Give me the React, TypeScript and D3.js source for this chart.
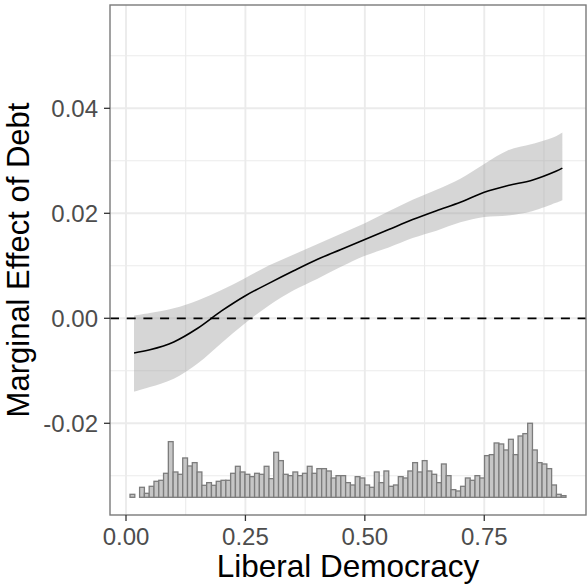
import React from "react";
import * as d3 from "d3";

// ---- data ----
const X_GRID = [0.0168, 0.05, 0.1, 0.15, 0.2, 0.25, 0.3, 0.35, 0.4, 0.45, 0.5, 0.55, 0.6, 0.65, 0.7, 0.75, 0.8, 0.85, 0.9, 0.9135];
const EFFECT = [-0.0066, -0.006, -0.0045, -0.0019, 0.0014, 0.0043, 0.0067, 0.009, 0.0112, 0.0131, 0.015, 0.0169, 0.0188, 0.0205, 0.0221, 0.024, 0.0253, 0.0263, 0.028, 0.0286];
const UPPER = [0.0005, 0.001, 0.0019, 0.0034, 0.0054, 0.0077, 0.0101, 0.0121, 0.0141, 0.0161, 0.0181, 0.0204, 0.0226, 0.0245, 0.0266, 0.0294, 0.032, 0.0332, 0.0347, 0.0354];
const LOWER = [-0.014, -0.0131, -0.0115, -0.0086, -0.0047, -0.0009, 0.0025, 0.0053, 0.0075, 0.0098, 0.0119, 0.0135, 0.0153, 0.0167, 0.0183, 0.0193, 0.0196, 0.0204, 0.022, 0.0225];

const HIST_COUNTS = [
  9, 0, 30, 12, 33, 48, 51, 72, 167, 76, 69, 118, 94, 104, 76, 36, 44, 36, 48, 51,
  51, 72, 93, 76, 69, 62, 72, 69, 93, 56, 135, 110, 69, 65, 76, 65, 72, 93, 72, 86,
  86, 79, 58, 65, 65, 44, 37, 62, 58, 37, 30, 76, 44, 79, 33, 37, 62, 58, 79, 104,
  76, 110, 79, 69, 44, 100, 65, 23, 19, 33, 58, 51, 65, 58, 125, 128, 163, 160, 142, 174,
  128, 184, 191, 222, 142, 104, 100, 86, 37, 9, 5,
];
const HIST_START = 0.0084;
const HIST_BIN = 0.01003;
const HIST_BASE = -0.0341;
const HIST_TOP = -0.02;

const X_TICKS = [0, 0.25, 0.5, 0.75];
const X_TICK_LABELS = ["0.00", "0.25", "0.50", "0.75"];
const X_MINOR = [0.125, 0.375, 0.625, 0.875];
const Y_TICKS = [-0.02, 0, 0.02, 0.04];
const Y_TICK_LABELS = ["-0.02", "0.00", "0.02", "0.04"];
const Y_MINOR = [-0.03, -0.01, 0.01, 0.03, 0.05];
const X_TITLE = "Liberal Democracy";
const Y_TITLE = "Marginal Effect of Debt";

const W = 587;
const H = 585;
const P = { left: 110, right: 586, top: 5, bottom: 515 };

export default function App() {
  const x = d3.scaleLinear().domain([-0.0335, 0.963]).range([P.left, P.right]);
  const y = d3.scaleLinear().domain([-0.03747, 0.05968]).range([P.bottom, P.top]);
  const hScale = d3
    .scaleLinear()
    .domain([0, d3.max(HIST_COUNTS) as number])
    .range([HIST_BASE, HIST_TOP]);

  const pts = X_GRID.map((xv, i) => ({ x: xv, m: EFFECT[i], lo: LOWER[i], hi: UPPER[i] }));
  const area = d3
    .area<any>()
    .x((d) => x(d.x))
    .y0((d) => y(d.lo))
    .y1((d) => y(d.hi))
    .curve(d3.curveCatmullRom.alpha(0.5));
  const line = d3
    .line<any>()
    .x((d) => x(d.x))
    .y((d) => y(d.m))
    .curve(d3.curveCatmullRom.alpha(0.5));

  const font = "'Liberation Sans', Arial, Helvetica, sans-serif";

  return (
    <svg width={W} height={H} style={{ position: "absolute", left: 0, top: 0, background: "#fff" }}>
      <rect x={0} y={0} width={W} height={H} fill="#fff" />
      {/* grid */}
      <g>
        {X_MINOR.map((v) => (
          <line key={"xm" + v} x1={x(v)} x2={x(v)} y1={P.top} y2={P.bottom} stroke="#ebebeb" strokeWidth={1.1} />
        ))}
        {Y_MINOR.map((v) => (
          <line key={"ym" + v} x1={P.left} x2={P.right} y1={y(v)} y2={y(v)} stroke="#ebebeb" strokeWidth={1.1} />
        ))}
        {X_TICKS.map((v) => (
          <line key={"xg" + v} x1={x(v)} x2={x(v)} y1={P.top} y2={P.bottom} stroke="#ebebeb" strokeWidth={1.9} />
        ))}
        {Y_TICKS.map((v) => (
          <line key={"yg" + v} x1={P.left} x2={P.right} y1={y(v)} y2={y(v)} stroke="#ebebeb" strokeWidth={1.9} />
        ))}
      </g>
      {/* histogram */}
      <g>
        {HIST_COUNTS.map((c, i) => {
          const x0 = x(HIST_START + i * HIST_BIN);
          const x1 = x(HIST_START + (i + 1) * HIST_BIN);
          const yt = y(hScale(c));
          const yb = y(HIST_BASE);
          return (
            <rect
              key={"h" + i}
              x={x0}
              y={yt}
              width={x1 - x0}
              height={yb - yt}
              fill="#c6c6c6"
              stroke="#7c7c7c"
              strokeWidth={1.3}
            />
          );
        })}
      </g>
      {/* ribbon + line */}
      <path d={area(pts) || ""} fill="#999999" fillOpacity={0.4} stroke="none" />
      <line x1={P.left} x2={P.right} y1={y(0)} y2={y(0)} stroke="#000" strokeWidth={1.7} strokeDasharray="9 7.7" />
      <path d={line(pts) || ""} fill="none" stroke="#000" strokeWidth={1.6} />
      {/* border */}
      <rect x={P.left} y={P.top} width={P.right - P.left} height={P.bottom - P.top} fill="none" stroke="#7a7a7a" strokeWidth={1.4} />
      {/* x axis */}
      {X_TICKS.map((v, i) => (
        <g key={"xt" + v}>
          <line x1={x(v)} x2={x(v)} y1={P.bottom} y2={P.bottom + 6} stroke="#333" strokeWidth={1.3} />
          <text x={x(v)} y={545} textAnchor="middle" fontFamily={font} fontSize={24} fill="#4d4d4d">
            {X_TICK_LABELS[i]}
          </text>
        </g>
      ))}
      {Y_TICKS.map((v, i) => (
        <g key={"yt" + v}>
          <line x1={P.left - 6} x2={P.left} y1={y(v)} y2={y(v)} stroke="#333" strokeWidth={1.3} />
          <text x={98} y={y(v) + 8.8} textAnchor="end" fontFamily={font} fontSize={24} fill="#4d4d4d">
            {Y_TICK_LABELS[i]}
          </text>
        </g>
      ))}
      <text x={(P.left + P.right) / 2} y={577} textAnchor="middle" fontFamily={font} fontSize={31.5} fill="#000">
        {X_TITLE}
      </text>
      <text
        transform={`translate(28.6, ${(P.top + P.bottom) / 2}) rotate(-90)`}
        textAnchor="middle"
        fontFamily={font}
        fontSize={31}
        fill="#000"
      >
        {Y_TITLE}
      </text>
    </svg>
  );
}
